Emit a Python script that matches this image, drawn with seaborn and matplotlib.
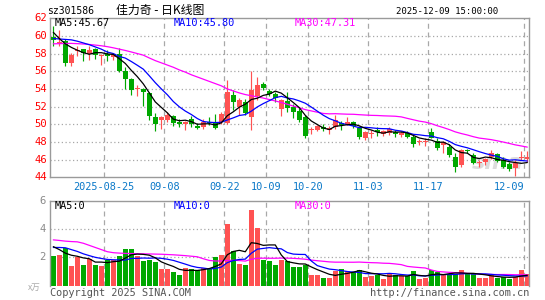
import numpy as np
import pandas as pd
import matplotlib
matplotlib.use("Agg")
import matplotlib.pyplot as plt
import seaborn as sns

# ---------------- data ----------------
open_ = [59.9, 59.2, 59.4, 56.9, 58.3, 58.5, 58.0, 58.5, 57.7, 57.9,
         57.6, 58.0, 56.0, 55.1, 54.0, 54.0, 53.5, 50.8, 50.5, 50.5,
         50.9, 50.2, 50.0, 50.6, 49.8, 49.7, 50.3, 50.3, 50.3, 50.1,
         53.3, 51.9, 52.5, 50.8, 53.2, 54.6, 53.8, 53.4, 51.7, 52.6,
         52.0, 51.5, 50.8, 49.4, 49.4, 49.7, 49.35, 49.7, 50.1, 50.0,
         50.25, 49.6, 48.45, 48.9, 49.4, 48.95, 49.0, 49.15, 48.8, 49.05,
         48.6, 47.95, 48.05, 49.1, 48.1, 47.7, 47.45, 46.3, 45.4, 47.1,
         46.55, 45.65, 45.7, 46.3, 46.6, 46.0, 45.45, 45.0, 46.15, 46.1]
high = [61.1, 60.7, 59.6, 58.1, 58.8, 58.5, 58.9, 58.6, 58.0, 58.4,
        58.1, 58.6, 56.5, 55.2, 54.4, 54.1, 53.6, 51.3, 50.9, 51.4,
        51.0, 50.6, 50.4, 50.9, 50.1, 50.6, 50.8, 51.2, 51.4, 55.05,
        53.9, 53.0, 52.9, 56.0, 55.4, 54.8, 54.0, 53.7, 52.9, 53.6,
        52.3, 51.8, 51.0, 49.7, 49.9, 50.0, 49.8, 51.1, 50.4, 50.8,
        50.4, 49.8, 49.2, 49.3, 49.7, 49.4, 49.7, 49.4, 49.25, 49.25,
        48.75, 48.3, 48.4, 49.6, 48.4, 48.1, 47.8, 46.75, 47.25, 47.25,
        46.75, 46.0, 46.2, 47.1, 46.75, 46.3, 45.7, 46.0, 46.95, 47.0]
low = [58.8, 58.8, 56.6, 56.6, 57.7, 57.2, 57.3, 57.4, 56.7, 57.2,
       57.3, 55.9, 54.0, 53.3, 53.2, 52.1, 50.5, 49.2, 49.5, 50.3,
       49.8, 49.7, 49.3, 49.7, 49.5, 49.5, 49.9, 49.5, 50.0, 50.0,
       51.6, 51.0, 51.0, 49.3, 52.8, 53.9, 53.2, 52.5, 50.9, 51.4,
       50.7, 50.3, 48.4, 48.9, 49.2, 49.2, 48.9, 49.5, 49.4, 49.9,
       49.6, 48.3, 48.2, 48.5, 48.65, 48.65, 48.8, 48.6, 48.55, 48.4,
       47.4, 47.6, 47.5, 48.4, 47.1, 46.7, 46.3, 44.6, 45.2, 46.7,
       45.45, 45.2, 45.35, 46.1, 45.7, 45.0, 44.7, 44.2, 45.95, 45.7]
close = [59.5, 59.3, 56.9, 57.8, 58.4, 58.1, 58.4, 57.8, 57.8, 57.7,
         57.8, 56.0, 55.1, 53.9, 54.15, 53.7, 50.9, 50.0, 50.8, 51.1,
         50.1, 50.0, 50.3, 50.0, 49.6, 50.3, 50.1, 49.6, 51.2, 53.65,
         52.5, 52.7, 51.3, 53.85, 54.4, 54.1, 53.4, 53.0, 52.7, 51.8,
         51.4, 50.5, 48.65, 49.5, 49.8, 49.45, 49.6, 50.5, 49.9, 50.3,
         49.8, 48.6, 49.1, 48.95, 49.1, 49.2, 49.45, 48.85, 49.0, 48.6,
         47.8, 48.0, 48.15, 48.5, 47.3, 47.95, 46.5, 45.2, 47.05, 46.95,
         45.6, 45.75, 46.1, 46.7, 45.9, 45.2, 44.95, 45.6, 46.25, 46.35]
volume = [2.07, 2.2, 2.68, 1.41, 2.02, 1.49, 1.9, 1.49, 1.41, 1.83,
          1.83, 2.07, 2.59, 2.59, 2.07, 1.73, 1.78, 1.66, 1.15, 1.2,
          0.98, 0.76, 1.27, 1.2, 1.12, 1.27, 1.15, 2.0, 2.15, 4.34,
          2.44, 1.56, 1.49, 5.37, 4.05, 1.78, 1.71, 1.49, 1.8, 1.71,
          1.34, 1.34, 1.44, 0.76, 0.76, 0.51, 0.51, 1.05, 1.17, 1.05,
          0.95, 1.1, 0.61, 0.66, 0.76, 0.46, 0.8, 0.76, 0.66, 0.66,
          1.05, 0.46, 0.54, 1.1, 0.95, 0.8, 0.8, 0.8, 1.12, 0.8,
          0.8, 0.54, 0.54, 0.76, 0.54, 0.61, 0.46, 0.61, 1.12, 0.83]

# moving-average values before the window is full
ma5_head = [60.4, 59.7, 59.1, 58.7]
ma10_head = [59.7, 59.65, 59.6, 59.55, 59.4, 59.2, 59.0, 58.75, 58.5]
ma30_head = [59.10, 59.12, 59.14, 59.15, 59.12, 59.08, 59.03, 58.96, 58.88, 58.78,
             58.65, 58.50, 58.35, 58.18, 58.0, 57.82, 57.5, 57.2, 56.95, 56.7,
             56.45, 56.15, 55.9, 55.6, 55.35, 55.1, 54.85, 54.6, 54.35]
vma5_head = [2.76, 2.55, 2.3, 2.15]
vma10_head = [2.7, 2.7, 2.68, 2.55, 2.42, 2.25, 2.12, 2.0, 1.92]
vma30_head = [3.24, 3.2, 3.15, 3.12, 3.1, 3.0, 2.85, 2.7, 2.55, 2.4,
              2.33, 2.3, 2.28, 2.27, 2.26, 2.25, 2.24, 2.23, 2.22, 2.2,
              2.18, 2.15, 2.12, 2.08, 2.04, 1.9, 1.78, 1.74, 1.74]

date_labels = ["2025-08-25", "09-08", "09-22", "10-09", "10-20", "11-03", "11-17", "12-09"]
date_index = [9, 19, 29, 36, 43, 53, 63, 79]
price_ticks = [44, 46, 48, 50, 52, 54, 56, 58, 60, 62]
vol_ticks = [2, 4, 6]
code_text = "sz301586"
title_text = "佳力奇 - 日K线图"
time_text = "2025-12-09 15:00:00"
price_legend = ["MA5:45.67", "MA10:45.80", "MA30:47.31"]
vol_legend = ["MA5:0", "MA10:0", "MA30:0"]

# ---------------- derived ----------------
n = len(close)
idx = np.arange(n)
df = pd.DataFrame({"i": idx, "o": open_, "h": high, "l": low, "c": close, "v": volume})


def moving(series, w, head):
    m = pd.Series(series).rolling(w).mean().to_numpy()
    m[:len(head)] = head
    return m


df["ma5"] = moving(close, 5, ma5_head)
df["ma10"] = moving(close, 10, ma10_head)
df["ma30"] = moving(close, 30, ma30_head)
df["vma5"] = moving(volume, 5, vma5_head)
df["vma10"] = moving(volume, 10, vma10_head)
df["vma30"] = moving(volume, 30, vma30_head)

RED = "#ff5252"
GREEN = "#00a800"
cols = [RED if c >= o else GREEN for o, c in zip(open_, close)]

# ---------------- figure ----------------
sns.set_theme(style="white")
plt.rcParams["font.family"] = ["DejaVu Sans Mono", "Noto Sans CJK SC"]

W, H = 545, 300
fig = plt.figure(figsize=(W / 100, H / 100), dpi=100)
fig.patch.set_facecolor("white")

L, R = 50.3, 529.3
x0, x1 = -0.5, -0.5 + (R - L) / 6.0


def fx(px):
    return px / W


def fy(py):
    return 1 - py / H


ax = fig.add_axes([fx(L), fy(177.3), (R - L) / W, (177.3 - 18.2) / H])
axv = fig.add_axes([fx(L), fy(285.5), (R - L) / W, (285.5 - 201) / H])

GRID = "#a8a8a8"
SPINE = "#9a9a9a"

for a in (ax, axv):
    a.set_facecolor("white")
    for s in a.spines.values():
        s.set_color(SPINE)
        s.set_linewidth(1.0)
    for di in date_index:
        a.axvline(di - 0.5, color=GRID, lw=0.9, ls=(0, (4, 3)), zorder=0)

axv.spines["bottom"].set_visible(False)

for t in price_ticks[1:-1]:
    ax.axhline(t, color=GRID, lw=0.9, ls=(0, (1, 2)), zorder=0)
for t in vol_ticks[:-1]:
    axv.axhline(t, color=GRID, lw=0.9, ls=(0, (1, 2)), zorder=0)

# faint watermark
ax.text(74.0, 45.6, "sina", fontsize=16, fontweight="bold", fontstyle="italic",
        color="#dcdcdc", ha="center", va="center", zorder=0.5, family="DejaVu Sans")

# candles
body_lo = np.minimum(df["o"], df["c"])
body_h = np.maximum(np.abs(df["c"] - df["o"]), 0.11)
ax.vlines(idx, df["l"], df["h"], colors=cols, lw=0.85, zorder=2)
ax.bar(idx, body_h, bottom=body_lo, width=0.8, color=cols, linewidth=0, zorder=3)

# moving average lines
sns.lineplot(data=df, x="i", y="ma30", ax=ax, color="#ff00ff", lw=0.9, zorder=4)
sns.lineplot(data=df, x="i", y="ma10", ax=ax, color="#0000ff", lw=0.9, zorder=5)
sns.lineplot(data=df, x="i", y="ma5", ax=ax, color="black", lw=0.9, zorder=6)

# volume
axv.bar(idx, df["v"], width=0.8, color=cols, linewidth=0, zorder=2)
sns.lineplot(data=df, x="i", y="vma30", ax=axv, color="#ff00ff", lw=0.9, zorder=4)
sns.lineplot(data=df, x="i", y="vma10", ax=axv, color="#0000ff", lw=0.9, zorder=5)
sns.lineplot(data=df, x="i", y="vma5", ax=axv, color="black", lw=0.9, zorder=6)

for a in (ax, axv):
    a.set_xlabel("")
    a.set_ylabel("")
    a.set_xticks([])
    a.set_yticks([])
    a.set_xlim(x0, x1)
ax.set_ylim(44, 62)
axv.set_ylim(0, 6)

# y labels
for t in price_ticks:
    ax.text(x0 - 0.55, t, str(t), color="#ff0000", fontsize=7.6,
            ha="right", va="center", clip_on=False)
for t in vol_ticks:
    axv.text(x0 - 0.75, t, str(t), color="#8a8a8a", fontsize=7.6,
             ha="right", va="center", clip_on=False)

# date labels
for lab, di in zip(date_labels, date_index):
    xp = di - 0.5
    ha = "right" if di == date_index[-1] else "center"
    ax.text(xp, 44 - 0.55, lab, color="#0a78c8", fontsize=7.4, ha=ha, va="top",
            clip_on=False)

# legends
leg_x = [55, 174, 295]
leg_c = ["black", "#0000ff", "#ff00ff"]
for s, xp, c in zip(price_legend, leg_x, leg_c):
    fig.text(fx(xp), fy(23.5), s, color=c, fontsize=7.4, ha="left", va="center")
for s, xp, c in zip(vol_legend, leg_x, leg_c):
    fig.text(fx(xp), fy(206), s, color=c, fontsize=7.4, ha="left", va="center")

# header
fig.text(fx(47.5), fy(11), code_text, color="black", fontsize=7.0, ha="left", va="center")
fig.text(fx(116), fy(10.5), title_text, color="black", fontsize=8.6, ha="left", va="center",
         family=["Noto Sans CJK SC", "DejaVu Sans"])
fig.text(fx(498.5), fy(11), time_text, color="black", fontsize=6.5, ha="right", va="center")

# footer
fig.text(fx(28), fy(287), "x万", color="#aaaaaa", fontsize=6.2, ha="left", va="center",
         family=["Noto Sans CJK SC", "DejaVu Sans"], fontstyle="italic")
fig.text(fx(50), fy(292.5), "Copyright 2025 SINA.COM", color="#555555", fontsize=7.4,
         ha="left", va="center")
fig.text(fx(529.5), fy(292.5), "http://finance.sina.com.cn", color="#555555", fontsize=7.4,
         ha="right", va="center")

fig.savefig("out.png", dpi=100, facecolor="white")
